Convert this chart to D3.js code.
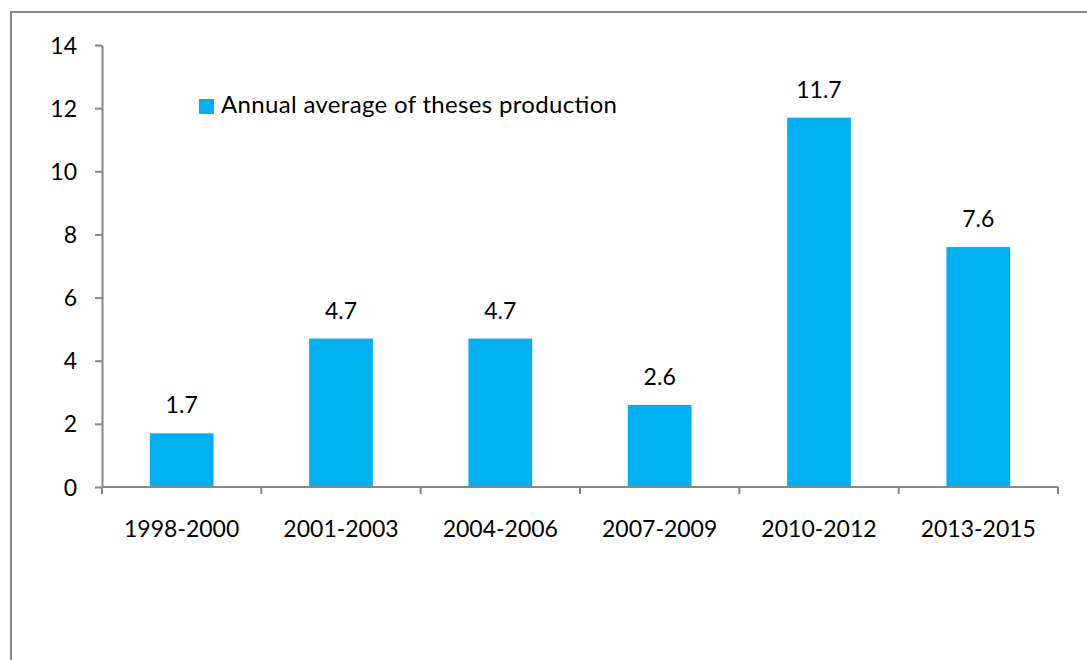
<!DOCTYPE html>
<html>
<head>
<meta charset="utf-8">
<script src="https://cdn.jsdelivr.net/npm/d3@7"></script>
<style>
  html, body { margin: 0; padding: 0; background: #fff; }
  svg { display: block; }
  text { font-family: Lato, "Open Sans", sans-serif; fill: #000; }
</style>
</head>
<body>
<svg id="chart" width="1087" height="660"></svg>
<script>
const categories = ["1998-2000", "2001-2003", "2004-2006", "2007-2009", "2010-2012", "2013-2015"];
const values = [1.7, 4.7, 4.7, 2.6, 11.7, 7.6];
const yTicks = [0, 2, 4, 6, 8, 10, 12, 14];
const seriesName = "Annual average of theses production";

(function () {
const svg = d3.select("#chart");
const W = 1087, H = 660;
const plotLeft = 102, plotRight = 1058, plotTop = 45, plotBottom = 487;
const barColor = "#00B0F0";
const axisColor = "#868686";
const fontSize = 23;

// outer border (chart area frame)
svg.append("rect")
  .attr("x", 11).attr("y", 12)
  .attr("width", W + 20).attr("height", H + 20)
  .attr("fill", "none").attr("stroke", "#898989").attr("stroke-width", 2);

const x = d3.scaleBand().domain(categories).range([plotLeft, plotRight])
  .paddingInner(0.6).paddingOuter(0.3);
const y = d3.scaleLinear().domain([0, 14]).range([plotBottom, plotTop]);

// bars
svg.selectAll("rect.bar").data(values).enter().append("rect")
  .attr("class", "bar")
  .attr("x", (d, i) => x(categories[i]))
  .attr("y", d => y(d))
  .attr("width", x.bandwidth())
  .attr("height", d => y(0) - y(d))
  .attr("fill", barColor);

// data labels
svg.selectAll("text.lbl").data(values).enter().append("text")
  .attr("class", "lbl")
  .attr("x", (d, i) => x(categories[i]) + x.bandwidth() / 2)
  .attr("y", d => y(d) - 20)
  .attr("text-anchor", "middle")
  .attr("font-size", fontSize)
  .text(d => d.toFixed(1));

// y axis
const yAxis = d3.axisLeft(y).tickValues(yTicks).tickSize(7).tickSizeOuter(0).tickPadding(18);
const gy = svg.append("g").attr("transform", `translate(${plotLeft},0)`).call(yAxis);
gy.select(".domain").attr("stroke", axisColor).attr("stroke-width", 2);
gy.selectAll(".tick line").attr("stroke", axisColor).attr("stroke-width", 2);
gy.selectAll(".tick text").attr("font-size", fontSize).attr("font-family", "Lato, 'Open Sans', sans-serif").attr("fill", "#000").attr("dy", "0.35em");

// x axis: ticks at category boundaries
const xAxisLine = svg.append("g");
xAxisLine.append("line")
  .attr("x1", plotLeft).attr("x2", plotRight).attr("y1", y(0)).attr("y2", y(0))
  .attr("stroke", axisColor).attr("stroke-width", 2);
const boundaries = categories.map(c => x(c) - x.step() * x.paddingInner() / 2).concat([plotRight]);
xAxisLine.selectAll("line.bt").data(boundaries).enter().append("line")
  .attr("class", "bt")
  .attr("x1", d => d).attr("x2", d => d)
  .attr("y1", y(0)).attr("y2", y(0) + 7)
  .attr("stroke", axisColor).attr("stroke-width", 2);

svg.selectAll("text.cat").data(categories).enter().append("text")
  .attr("class", "cat")
  .attr("x", d => x(d) + x.bandwidth() / 2)
  .attr("y", 537)
  .attr("text-anchor", "middle")
  .attr("font-size", fontSize)
  .text(d => d);

// legend
const lg = svg.append("g").attr("transform", "translate(199,99)");
lg.append("rect").attr("width", 15).attr("height", 15).attr("fill", barColor);
lg.append("text").attr("x", 22).attr("y", 14).attr("font-size", 24)
  .attr("textLength", 396).attr("lengthAdjust", "spacing").text(seriesName);
})();
</script>
</body>
</html>
